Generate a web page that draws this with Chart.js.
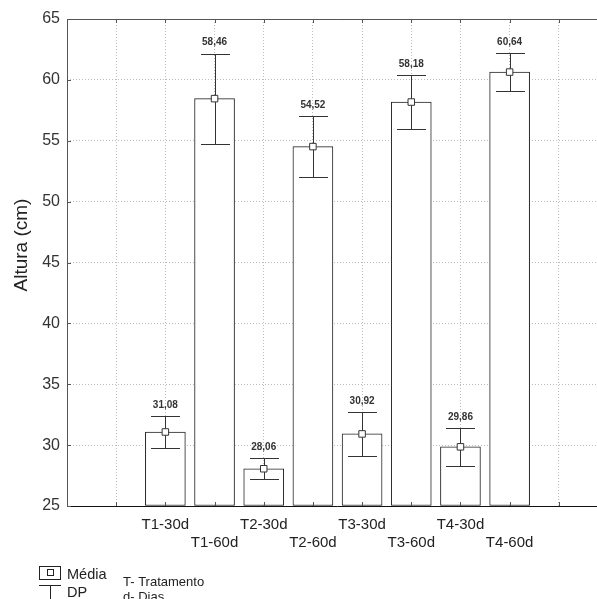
<!DOCTYPE html>
<html>
<head>
<meta charset="utf-8">
<script src="https://cdn.jsdelivr.net/npm/chart.js@4/dist/chart.umd.min.js"></script>
<style>
  html, body { margin: 0; padding: 0; background: #fff; overflow: hidden; }
  #wrap { width: 620px; height: 599px; }
</style>
</head>
<body>
<div id="wrap"><canvas id="chart" width="620" height="599"></canvas></div>
<script>
const categories = ["T1-30d", "T1-60d", "T2-30d", "T2-60d", "T3-30d", "T3-60d", "T4-30d", "T4-60d"];
const means = [31.08, 58.46, 28.06, 54.52, 30.92, 58.18, 29.86, 60.64];
const sd = [1.30, 3.70, 0.87, 2.50, 1.78, 2.24, 1.56, 1.55];
const valueLabels = ["31,08", "58,46", "28,06", "54,52", "30,92", "58,18", "29,86", "60,64"];
const yTicks = [25, 30, 35, 40, 45, 50, 55, 60, 65];

// two empty slots on each side of the groups, like the original plot
const padBefore = 2;
const padAfter = 2;
const slotLabels = [].concat(Array(padBefore).fill(""), categories, Array(padAfter).fill(""));
const pad = (arr) => [].concat(Array(padBefore).fill(null), arr, Array(padAfter).fill(null));

const sans = "'Liberation Sans', Arial, sans-serif";

const errorBars = {
  id: "errorBars",
  afterDatasetDraw(chart, args) {
    if (args.index !== 0) return;
    const { ctx, scales } = chart;
    ctx.save();
    ctx.strokeStyle = "#333";
    ctx.lineWidth = 1;
    means.forEach((m, i) => {
      const x = Math.round(scales.x.getPixelForValue(i + padBefore)) + 0.5;
      const top = Math.round(scales.y.getPixelForValue(m + sd[i])) + 0.5;
      const bot = Math.round(scales.y.getPixelForValue(m - sd[i])) + 0.5;
      ctx.beginPath();
      ctx.moveTo(x, top);
      ctx.lineTo(x, bot);
      ctx.moveTo(x - 14.5, top);
      ctx.lineTo(x + 14.5, top);
      ctx.moveTo(x - 14.5, bot);
      ctx.lineTo(x + 14.5, bot);
      ctx.stroke();
    });
    ctx.restore();
  },
  afterDatasetsDraw(chart) {
    const { ctx, scales } = chart;
    ctx.save();
    ctx.fillStyle = "#333";
    ctx.font = "bold 10px " + sans;
    ctx.textAlign = "center";
    ctx.textBaseline = "middle";
    means.forEach((m, i) => {
      const x = scales.x.getPixelForValue(i + padBefore);
      const top = scales.y.getPixelForValue(m + sd[i]);
      ctx.fillText(valueLabels[i], x, top - 11);
    });
    ctx.restore();
  },
};

const frame = {
  id: "frame",
  afterDraw(chart) {
    const { ctx, chartArea: a, scales } = chart;
    ctx.save();
    ctx.lineWidth = 1;
    ctx.strokeStyle = "#555";
    ctx.beginPath();
    ctx.moveTo(a.left + 0.5, a.bottom);
    ctx.lineTo(a.left + 0.5, a.top + 0.5);
    ctx.lineTo(a.right, a.top + 0.5);
    ctx.stroke();
    ctx.strokeStyle = "#111";
    ctx.beginPath();
    ctx.moveTo(a.left, a.bottom + 0.5);
    ctx.lineTo(a.right, a.bottom + 0.5);
    ctx.stroke();
    // small inner tick marks
    ctx.strokeStyle = "#555";
    ctx.beginPath();
    for (let i = 1; i < slotLabels.length; i++) {
      const x = Math.round(scales.x.getPixelForValue(i)) + 0.5;
      ctx.moveTo(x, a.bottom);
      ctx.lineTo(x, a.bottom - 4);
      ctx.moveTo(x, a.top);
      ctx.lineTo(x, a.top + 4);
    }
    yTicks.forEach((v) => {
      const y = Math.round(scales.y.getPixelForValue(v)) + 0.5;
      ctx.moveTo(a.left, y);
      ctx.lineTo(a.left + 4, y);
    });
    ctx.stroke();

    // y axis title
    ctx.fillStyle = "#222";
    ctx.font = "19px " + sans;
    ctx.textAlign = "center";
    ctx.textBaseline = "middle";
    ctx.translate(22, 245);
    ctx.rotate(-Math.PI / 2);
    ctx.fillText("Altura (cm)", 0, 0);
    ctx.restore();

    // legend under the plot
    ctx.save();
    ctx.strokeStyle = "#222";
    ctx.lineWidth = 1;
    ctx.strokeRect(39.5, 566.5, 21, 13);
    ctx.strokeRect(47.5, 569.5, 6, 6);
    ctx.beginPath();
    ctx.moveTo(39, 585.5);
    ctx.lineTo(61, 585.5);
    ctx.moveTo(50.5, 585.5);
    ctx.lineTo(50.5, 600);
    ctx.stroke();
    ctx.fillStyle = "#222";
    ctx.textBaseline = "alphabetic";
    ctx.font = "14.5px " + sans;
    ctx.fillText("Média", 67, 579);
    ctx.fillText("DP", 67, 597);
    ctx.font = "13px " + sans;
    ctx.fillText("T- Tratamento", 123, 586);
    ctx.fillText("d- Dias", 123, 601);
    ctx.restore();
  },
};

new Chart(document.getElementById("chart"), {
  type: "bar",
  data: {
    labels: slotLabels,
    datasets: [
      {
        label: "Altura",
        data: pad(means),
        base: 25,
        backgroundColor: "#fff",
        borderColor: "#222",
        borderWidth: 1,
        borderSkipped: false,
        barThickness: 40,
        order: 2,
      },
      {
        type: "line",
        label: "Média",
        data: pad(means),
        showLine: false,
        pointStyle: "rect",
        pointRadius: 4.6,
        pointBackgroundColor: "#fff",
        pointBorderColor: "#333",
        pointBorderWidth: 1,
        order: 1,
      },
    ],
  },
  options: {
    responsive: false,
    animation: false,
    devicePixelRatio: 1,
    layout: { padding: { top: 19, right: 12, left: 0, bottom: 0 } },
    plugins: { legend: { display: false }, tooltip: { enabled: false } },
    scales: {
      x: {
        offset: false,
        grid: { offset: false, color: "#bcbcbc", drawTicks: false },
        border: { display: false, dash: [1, 2] },
        ticks: {
          autoSkip: false,
          maxRotation: 0,
          padding: 10,
          color: "#222",
          font: { family: sans, size: 15 },
          callback(value) {
            const label = this.getLabelForValue(value);
            if (!label) return "";
            return label.endsWith("60d") ? ["", label] : [label];
          },
        },
        afterFit(scale) { scale.height = 93; },
      },
      y: {
        min: 25,
        max: 65,
        grid: { color: "#bcbcbc", drawTicks: false },
        border: { display: false, dash: [1, 2] },
        ticks: {
          stepSize: 5,
          padding: 7,
          color: "#333",
          font: { family: sans, size: 16 },
        },
        afterFit(scale) { scale.width = 67; },
      },
    },
  },
  plugins: [errorBars, frame],
});
</script>
</body>
</html>
